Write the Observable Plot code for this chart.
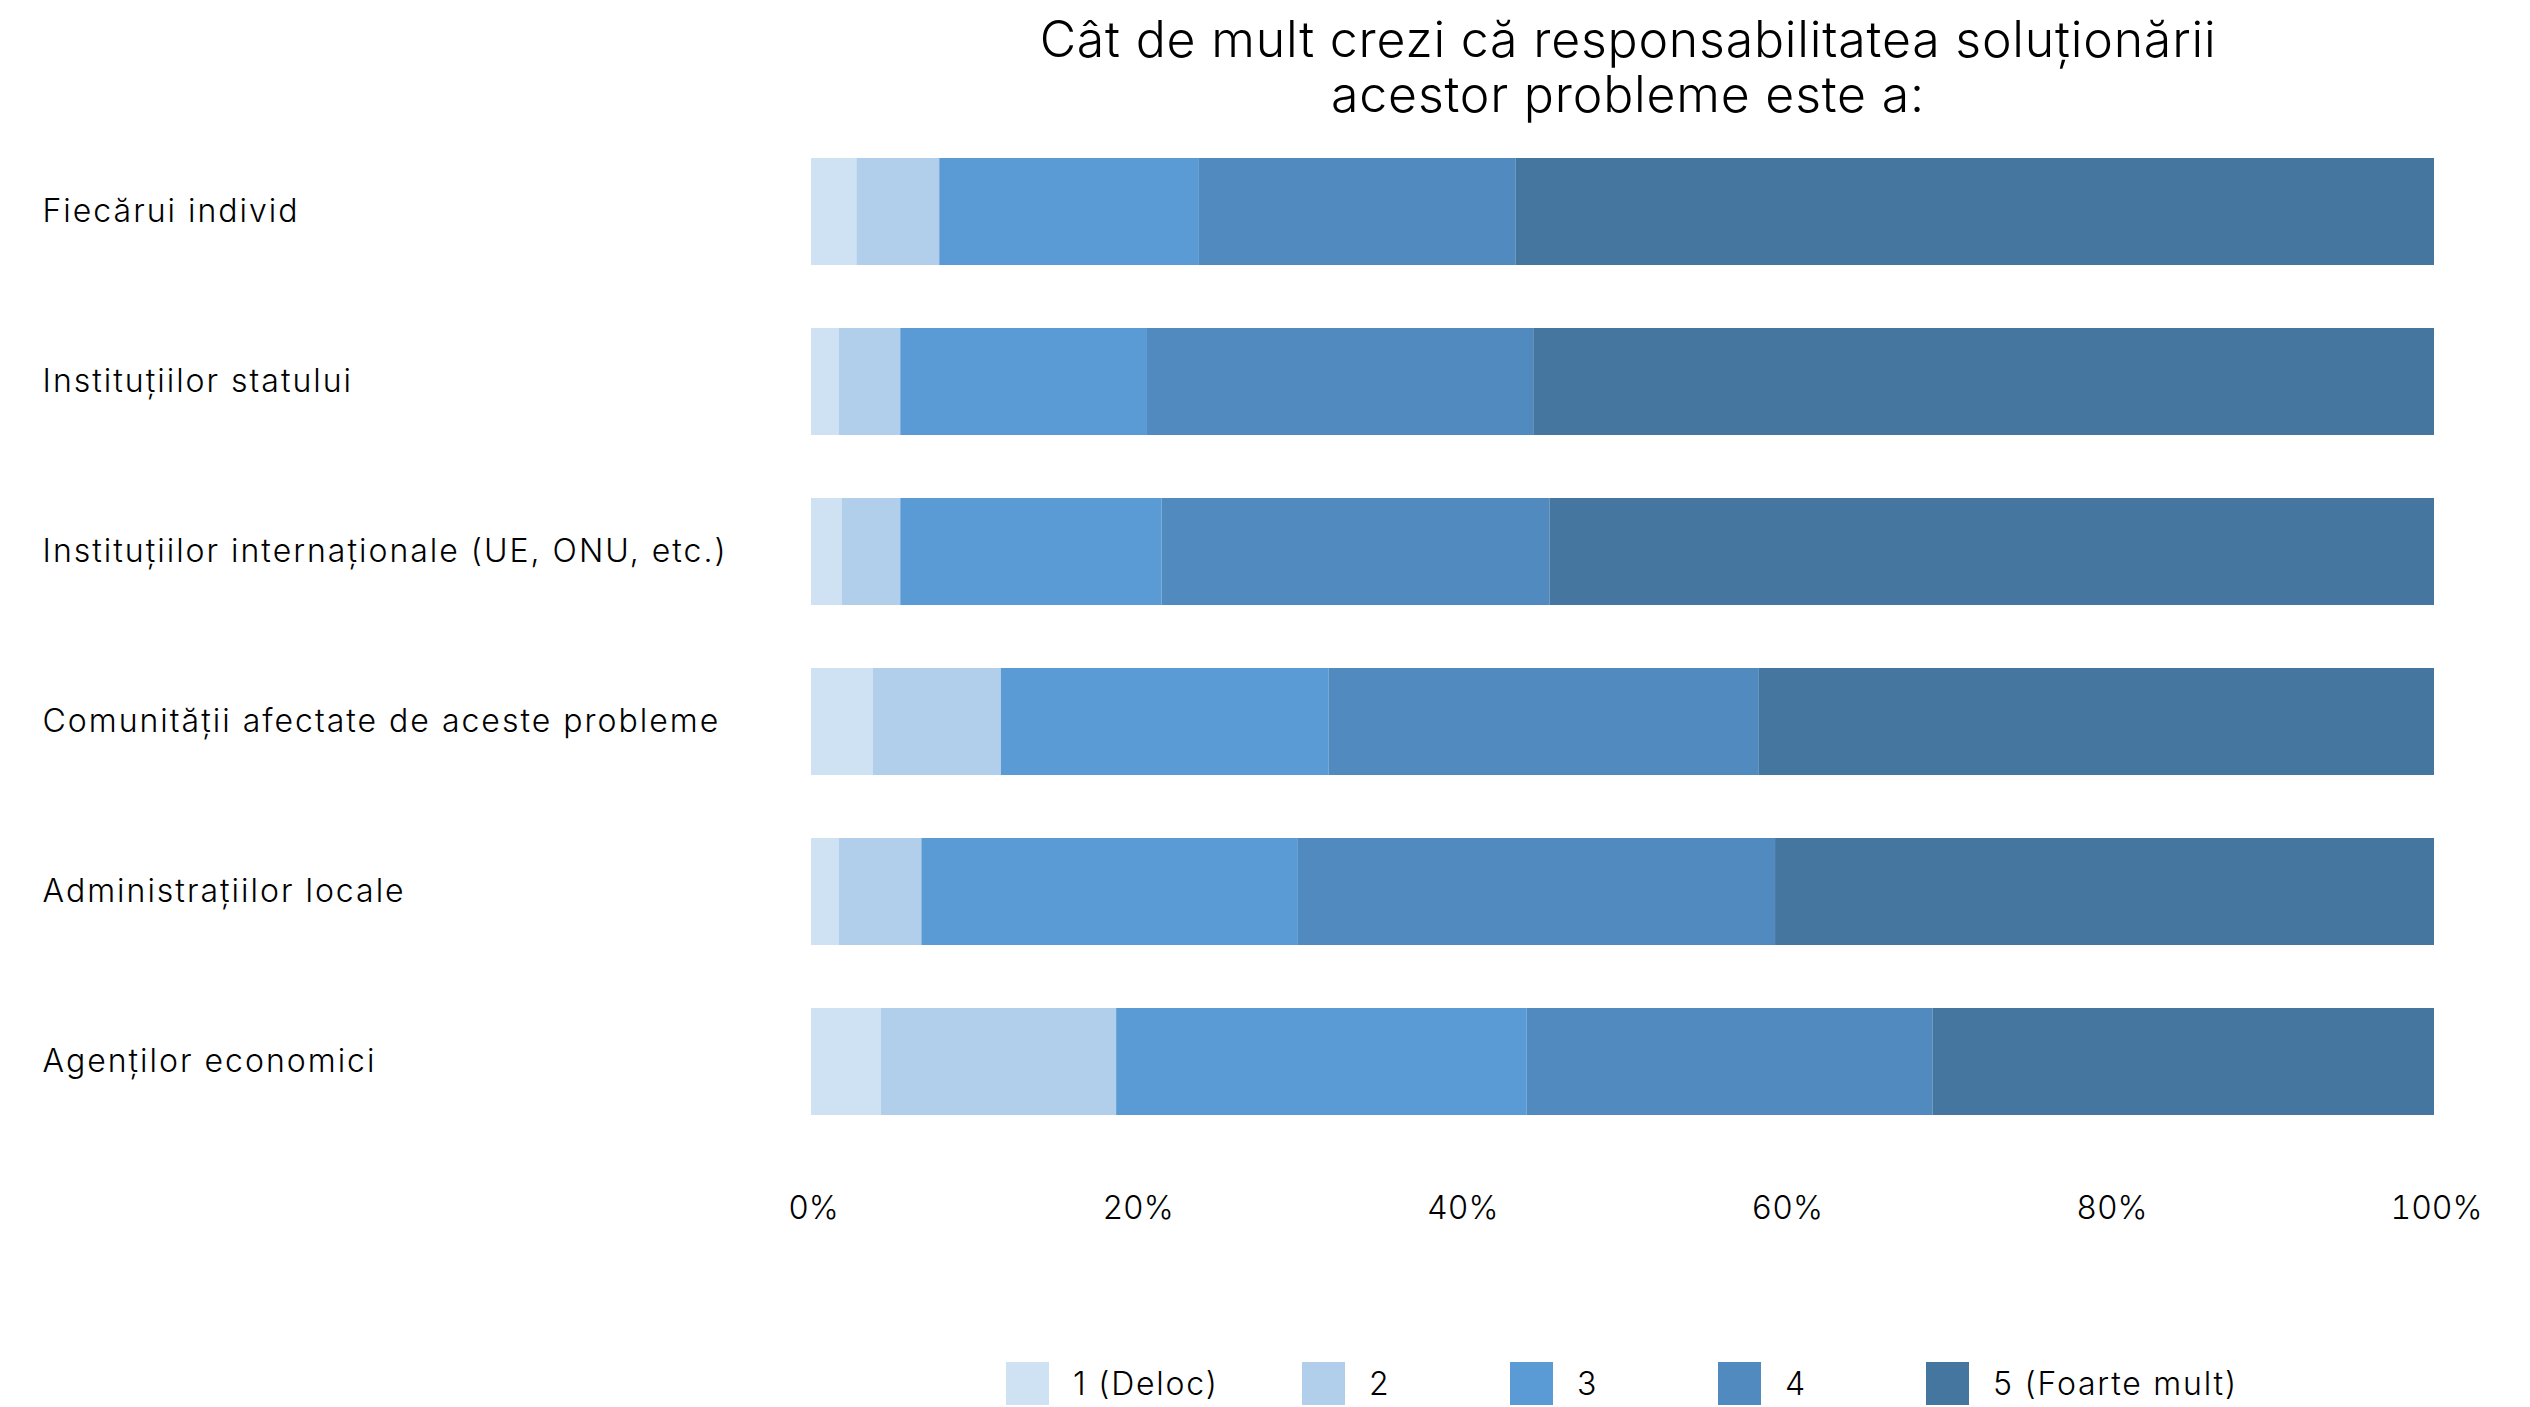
<!DOCTYPE html>
<html>
<head>
<meta charset="utf-8">
<script src="https://cdn.jsdelivr.net/npm/d3@7"></script>
<script src="https://cdn.jsdelivr.net/npm/@observablehq/plot@0.6"></script>
<style>
  html, body { margin: 0; padding: 0; background: #fff; }
  body { width: 2530px; font-family: Inter, "Noto Sans", sans-serif; font-weight: 300; color: #000; }
  #title { box-sizing: border-box; margin-left: 811px; width: 1634px; padding-top: 12px; height: 120px;
           font-size: 50px; line-height: 55px; text-align: center; font-weight: 300; letter-spacing: 0.8px; }
  #chart svg { display: block; }
  #legend { display: flex; margin-top: 112px; padding-left: 1006px; align-items: center; height: 43px; }
  .item { display: flex; align-items: center; width: 208px; font-size: 32px; line-height: 40px;
          white-space: nowrap; letter-spacing: 1.8px; flex: none; }
  .item:first-child { width: 296px; }
  .sw { width: 43px; height: 43px; margin-right: 24px; flex: none; }
</style>
</head>
<body>
<div id="title">Cât de mult crezi că responsabilitatea soluționării<br>acestor probleme este a:</div>
<div id="chart"></div>
<div id="legend"></div>
<script>
const categories = [
  "Fiecărui individ",
  "Instituțiilor statului",
  "Instituțiilor internaționale (UE, ONU, etc.)",
  "Comunității afectate de aceste probleme",
  "Administrațiilor locale",
  "Agenților economici"
];
const levels = ["1 (Deloc)", "2", "3", "4", "5 (Foarte mult)"];
const colors = ["#cfe2f3", "#b1cfea", "#5b9bd5", "#508abe", "#4476a0"];
const level1 = [2.8, 1.7, 1.9, 3.8, 1.7, 4.3];
const level2 = [5.1, 3.8, 3.6, 7.9, 5.1, 14.5];
const level3 = [16.0, 15.2, 16.1, 20.2, 23.2, 25.3];
const level4 = [19.5, 23.8, 23.9, 26.5, 29.4, 25.0];
const level5 = [56.6, 55.5, 54.5, 41.6, 40.6, 30.9];
const xTicks = [0, 20, 40, 60, 80, 100];

const series = [level1, level2, level3, level4, level5];
const data = [];
categories.forEach((c, i) => {
  levels.forEach((l, j) => data.push({category: c, level: l, value: series[j][i]}));
});

const W = 2530, H = 1130, ML = 811, MR = 96, MT = 2, MB = 99.8;
const font = "Inter, 'Noto Sans', sans-serif";

const chart = Plot.plot({
  width: W, height: H,
  marginLeft: ML, marginRight: MR, marginTop: MT, marginBottom: MB,
  style: {fontFamily: font, background: "#fff", color: "#000"},
  x: {domain: [0, 100]},
  y: {domain: categories, paddingInner: 0.373, paddingOuter: 0.2},
  color: {domain: levels, range: colors},
  marks: [
    Plot.barX(data, {y: "category", x: "value", fill: "level"}),
    Plot.axisX({ticks: xTicks, tickFormat: d => d + "%", tickSize: 0, tickPadding: 46,
                fontSize: 32, fontWeight: 300, fill: "#000", dx: 2, label: null}),
    Plot.axisY({tickSize: 0, tickPadding: 0, textAnchor: "start", dx: -(ML - 42),
                fontSize: 32, fontWeight: 300, fill: "#000", label: null})
  ]
});
chart.querySelectorAll("[aria-label='y-axis tick label'] text").forEach(t => t.style.letterSpacing = "2px");
document.getElementById("chart").appendChild(chart);

const legend = document.getElementById("legend");
levels.forEach((l, j) => {
  const it = document.createElement("div");
  it.className = "item";
  const sw = document.createElement("div");
  sw.className = "sw";
  sw.style.background = colors[j];
  const t = document.createElement("span");
  t.textContent = l;
  it.appendChild(sw); it.appendChild(t);
  legend.appendChild(it);
});
</script>
</body>
</html>
